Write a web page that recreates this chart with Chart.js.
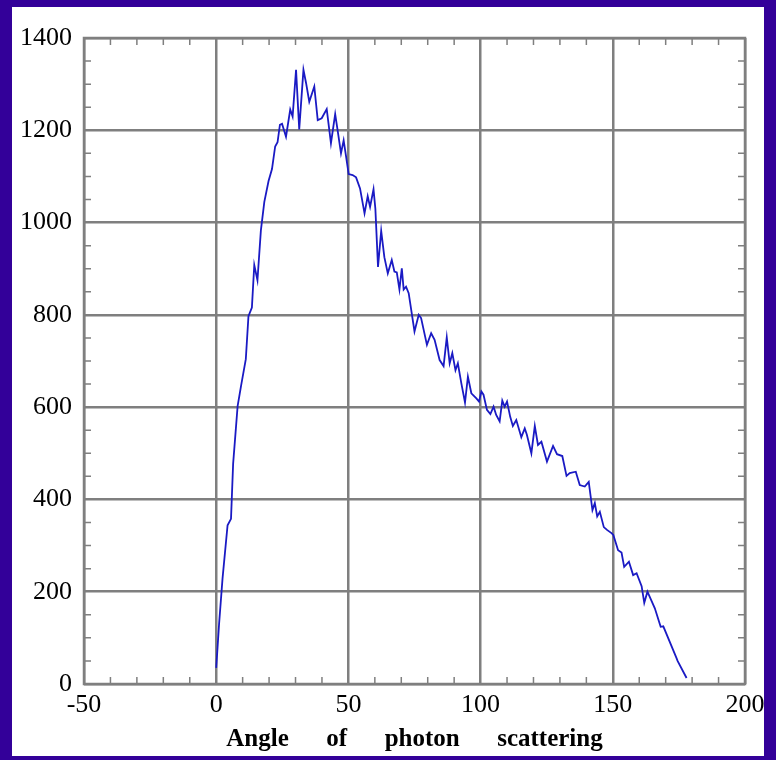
<!DOCTYPE html>
<html>
<head>
<meta charset="utf-8">
<title>Angle of photon scattering</title>
<script src="https://cdn.jsdelivr.net/npm/chart.js@4/dist/chart.umd.min.js"></script>
<style>
  html, body { margin: 0; padding: 0; background: #330099; }
  #chart { display: block; }
</style>
</head>
<body>
<canvas id="chart" width="776" height="760"></canvas>
<script>
// scattering angle (degrees) and counts
const angles = [
  0, 1.1, 2.4, 4.3, 5.6, 6.4, 8.1, 9.4, 11.2, 12.2, 13.5, 14.4, 15.6, 16.9, 18.2, 19.8,
  21.1, 22.3, 23.2, 24.1, 24.9, 26.4, 28, 28.9, 30.2, 31.4, 33, 34, 35.2, 37.1, 38.4, 39.9,
  41.8, 43.4, 45, 45.9, 47.2, 48.2, 49.1, 50.1, 51.6, 52.9, 54.4, 56.1, 57.3, 58.2, 59.5, 60.2,
  61.2, 62.4, 63.6, 64.9, 66.4, 67.4, 68.3, 69.3, 70.2, 70.9, 71.8, 72.8, 75, 76.6, 77.5, 79.7,
  81.3, 82.6, 84.5, 86, 87.2, 88.3, 89.3, 90.5, 91.4, 92.7, 94.1, 95.2, 96.5, 98.4, 99.4, 100.3,
  101.1, 102.4, 103.7, 104.9, 105.9, 107.2, 108.2, 109.1, 110, 111.2, 112.2, 113.5, 115.4, 116.7, 117.5, 119.2,
  120.5, 121.7, 123, 125.1, 127.4, 128.9, 130.9, 132.5, 133.7, 136, 137.5, 139.4, 140.9, 142.3, 143.2, 144.1,
  145.1, 146.6, 147.8, 149.5, 150.2, 152, 153.3, 154.3, 156.1, 157.7, 159, 160.9, 161.9, 163.1, 165.9, 168.1,
  169.1, 174.1, 174.5, 177.9
];
const counts = [
  35, 131, 229, 344, 358, 477, 602, 646, 704, 797, 816, 908, 875, 983, 1045, 1090,
  1116, 1165, 1174, 1212, 1214, 1186, 1245, 1230, 1331, 1202, 1331, 1302, 1262, 1295, 1222, 1226,
  1246, 1172, 1235, 1201, 1150, 1178, 1144, 1105, 1103, 1098, 1074, 1020, 1057, 1034, 1072, 1030,
  904, 982, 925, 890, 919, 894, 892, 855, 901, 855, 861, 847, 764, 800, 793, 735,
  760, 746, 702, 689, 751, 695, 717, 680, 695, 652, 610, 666, 630, 619, 612, 634,
  627, 594, 585, 601, 583, 569, 614, 601, 612, 579, 559, 572, 535, 554, 540, 500,
  559, 518, 525, 482, 516, 498, 494, 451, 457, 460, 431, 428, 438, 377, 392, 363,
  373, 340, 334, 327, 323, 290, 285, 254, 265, 236, 240, 212, 176, 200, 164, 124,
  125, 56, 50, 13
];

const xTicks = [-50, 0, 50, 100, 150, 200];
const yTicks = [0, 200, 400, 600, 800, 1000, 1200, 1400];
const xMinorStep = 10;
const yMinorStep = 50;
const xTitle = 'Angle      of      photon      scattering';

const gridGray = '#7f7f7f';
const serif = "'Liberation Serif', 'Times New Roman', serif";

// white panel, frame and inward minor ticks
const framePlugin = {
  id: 'frame',
  beforeDraw(chart) {
    const ctx = chart.ctx;
    ctx.save();
    ctx.fillStyle = '#ffffff';
    ctx.fillRect(12, 7, 752, 749);
    ctx.restore();
  },
  beforeDatasetsDraw(chart) {
    const { ctx, chartArea: a, scales: { x, y } } = chart;
    ctx.save();
    ctx.strokeStyle = gridGray;
    ctx.lineWidth = 1.5;
    const len = 7;
    ctx.beginPath();
    for (let v = xTicks[0]; v <= xTicks[xTicks.length - 1]; v += xMinorStep) {
      if (xTicks.includes(v)) continue;
      const px = x.getPixelForValue(v);
      ctx.moveTo(px, a.bottom); ctx.lineTo(px, a.bottom - len);
      ctx.moveTo(px, a.top); ctx.lineTo(px, a.top + len);
    }
    for (let v = yTicks[0]; v <= yTicks[yTicks.length - 1]; v += yMinorStep) {
      if (yTicks.includes(v)) continue;
      const py = y.getPixelForValue(v);
      ctx.moveTo(a.left, py); ctx.lineTo(a.left + len, py);
      ctx.moveTo(a.right, py); ctx.lineTo(a.right - len, py);
    }
    ctx.stroke();
    ctx.lineWidth = 2.5;
    ctx.strokeRect(a.left, a.top, a.right - a.left, a.bottom - a.top);
    ctx.restore();
  }
};

const ctx = document.getElementById('chart').getContext('2d');
const chart = new Chart(ctx, {
  type: 'line',
  data: {
    datasets: [{
      data: angles.map((a, i) => ({ x: a, y: counts[i] })),
      borderColor: '#1a1ac4',
      borderWidth: 1.8,
      pointRadius: 0,
      tension: 0,
      fill: false
    }]
  },
  options: {
    responsive: false,
    animation: false,
    devicePixelRatio: 1,
    layout: { padding: { top: 38, right: 31, bottom: 0, left: 0 } },
    plugins: {
      legend: { display: false },
      tooltip: { enabled: false }
    },
    scales: {
      x: {
        type: 'linear',
        min: -50,
        max: 200,
        afterBuildTicks: s => { s.ticks = xTicks.map(v => ({ value: v })); },
        afterFit: s => { s.height = 76; },
        grid: { color: gridGray, lineWidth: 2.5, drawTicks: false },
        border: { display: false },
        ticks: {
          padding: 6,
          color: '#000',
          font: { family: serif, size: 26 },
          maxRotation: 0,
          autoSkip: false,
          callback: v => String(v)
        },
        title: {
          display: true,
          text: xTitle,
          color: '#000',
          font: { family: serif, size: 25, weight: 'bold' },
          padding: { top: 0, bottom: 5 }
        }
      },
      y: {
        type: 'linear',
        min: 0,
        max: 1400,
        afterBuildTicks: s => { s.ticks = yTicks.map(v => ({ value: v })); },
        afterFit: s => { s.width = 84; },
        grid: { color: gridGray, lineWidth: 2.5, drawTicks: false },
        border: { display: false },
        ticks: {
          padding: 12,
          color: '#000',
          font: { family: serif, size: 26 },
          callback: v => String(v)
        }
      }
    }
  },
  plugins: [framePlugin]
});
</script>
</body>
</html>
